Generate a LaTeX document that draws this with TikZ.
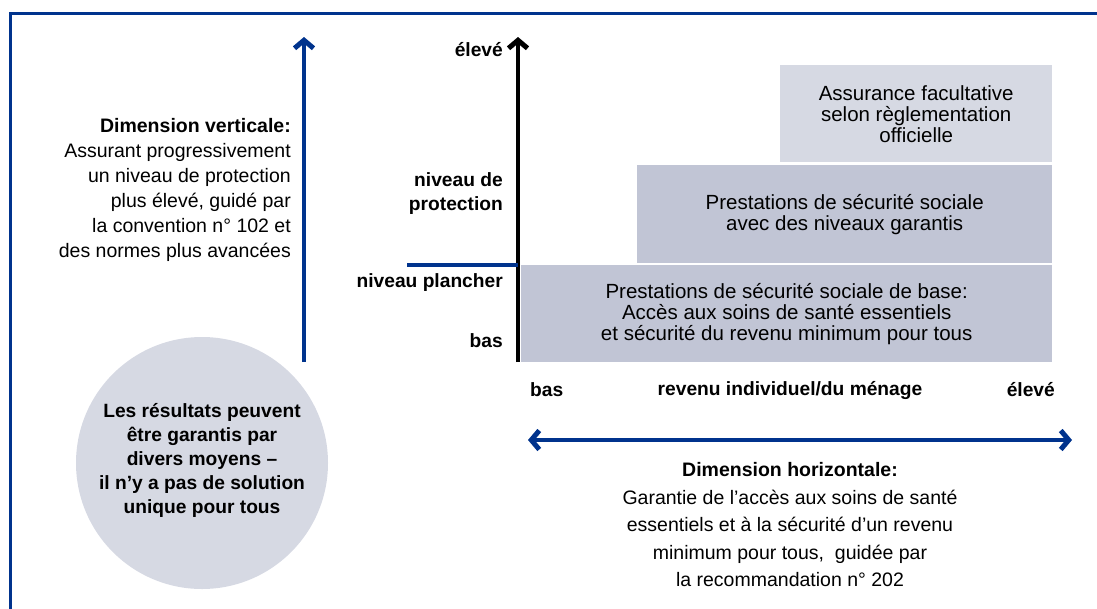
\documentclass[tikz,border=0pt]{standalone}
\usepackage{fontspec}
\setmainfont{Liberation Sans}
\usetikzlibrary{arrows.meta}
\definecolor{ilob}{RGB}{0,51,141}
\definecolor{boxdark}{RGB}{193,197,213}
\definecolor{boxlight}{RGB}{214,217,227}
\begin{document}
\begin{tikzpicture}[x=1pt,y=-1pt,
  lbl/.style={font=\fontsize{19.2}{24}\selectfont\bfseries, inner sep=0pt, align=right},
  body/.style={font=\fontsize{19.5}{25}\selectfont, inner sep=0pt},
  boxtext/.style={font=\fontsize{20.5}{21}\selectfont, align=center, inner sep=0pt},
  stepbox/.style={anchor=north west, inner sep=0pt},
  barb/.style={line width=4pt, line cap=butt},
  tip/.tip={Straight Barb[length=8pt, width=19pt, line width=5pt]}
]
\useasboundingbox (0,0) rectangle (1097,608);
% frame
\draw[ilob, line width=3pt] (10,640) -- (10,13) -- (1120,13);

% boxes
\node[stepbox, fill=boxdark, minimum width=531pt, minimum height=97pt, boxtext] (b1) at (521,265)
  {Prestations de sécurité sociale de base:\\Accès aux soins de santé essentiels\\et sécurité du revenu minimum pour tous};
\node[stepbox, fill=boxdark, minimum width=415pt, minimum height=98pt, boxtext] (b2) at (637,165)
  {Prestations de sécurité sociale\\avec des niveaux garantis};
\node[stepbox, fill=boxlight, minimum width=272pt, minimum height=97pt, boxtext] (b3) at (780,65)
  {Assurance facultative\\selon règlementation\\officielle};

% vertical blue arrow
\coordinate (va0) at (304,362);
\coordinate (va1) at (304,37);
\draw[ilob, barb, -{tip}] (va0) -- (va1);

% vertical black axis
\coordinate (ax0) at (518,362);
\coordinate (ax1) at (518,37);
\draw[black, barb, -{tip}] (ax0) -- (ax1);

% plancher line
\coordinate (pl0) at (407,265);
\coordinate (pl1) at (518,265);
\draw[ilob, line width=4pt] (pl0) -- (pl1);

% horizontal double arrow
\coordinate (ha0) at (528,440);
\coordinate (ha1) at (1072,440);
\draw[ilob, barb, {tip}-{tip}] (ha0) -- (ha1);

% axis labels
\node[lbl, anchor=east] (yhigh) at (503,50) {élevé};
\node[lbl, anchor=east] (yprot) at (503,194) {niveau de\\protection};
\node[lbl, anchor=east] (yfloor) at (503,283) {niveau plancher};
\node[lbl, anchor=east] (ylow) at (503,341) {bas};
\node[lbl, anchor=west] (xlow) at (530,390) {bas};
\node[lbl] (xlab) at (790,390) {revenu individuel/du ménage};
\node[lbl, anchor=east] (xhigh) at (1055,390) {élevé};

% vertical dimension text
\node[body, align=right, anchor=east] (vdim) at (291,190)
  {\textbf{Dimension verticale:}\\Assurant progressivement\\un niveau de protection\\plus élevé, guidé par\\la convention n° 102 et\\des normes plus avancées};

% horizontal dimension text
\node[body, align=center, font=\fontsize{19.5}{27.5}\selectfont] (hdim) at (790,525)
  {\textbf{Dimension horizontale:}\\Garantie de l’accès aux soins de santé\\essentiels et à la sécurité d’un revenu\\minimum pour tous,\ \ guidée par\\la recommandation n° 202};

% circle
\node[circle, fill=boxlight, minimum size=252pt, inner sep=0pt] (circ) at (202,463) {};
\node[lbl, align=center] (circtext) at (202,460)
  {Les résultats peuvent\\être garantis par\\divers moyens –\\il n’y a pas de solution\\unique pour tous};
\end{tikzpicture}
\end{document}
